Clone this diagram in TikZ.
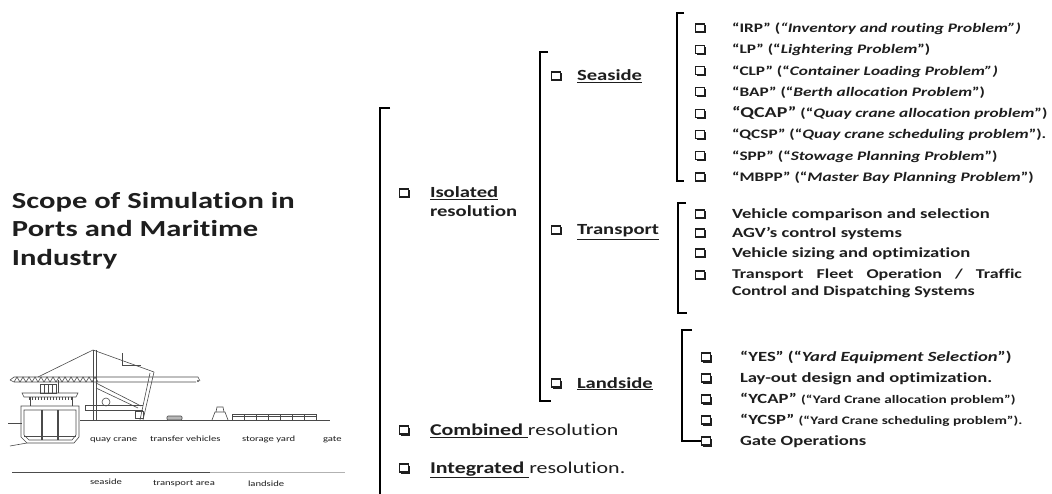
\documentclass[tikz,border=0pt]{standalone}
\usepackage{fontspec}
\setmainfont{Carlito}[Ligatures={NoCommon}]
\usetikzlibrary{shadows}
\definecolor{ink}{HTML}{1E1E1E}
\definecolor{sketch}{HTML}{4A4A4A}
\newcommand{\fs}[1]{\fontsize{#1}{#1}\selectfont}
\begin{document}
\begin{tikzpicture}[x=1pt,y=-1pt,
  txt/.style={anchor=base west, inner sep=0pt, outer sep=0pt, xscale=1.33, text=ink},
  cbox/.style={draw=ink, fill=white, line width=1.1pt, minimum width=9.5pt, minimum height=8pt,
    inner sep=0pt, general shadow={fill=ink, shadow xshift=1.5pt, shadow yshift=-1.5pt}},
  brk/.style={draw=black, line width=2.4pt},
  item/.style={txt, font=\fs{14}\bfseries},
  sitem/.style={txt, font=\fs{13}\bfseries},
  lvl/.style={txt, font=\fs{15.5}\bfseries},
  captxt/.style={txt, font=\fs{8}, text=ink},
  sk/.style={draw=sketch, line width=0.6pt},
]
\useasboundingbox (0,0) rectangle (1052,494);
\fill[white] (0,0) rectangle (1052,494);

% ---------- title ----------
\node[txt, font=\fs{23}\bfseries] (t1) at (12,208.5) {Scope of Simulation in};
\node[txt, font=\fs{23}\bfseries] (t2) at (12,237) {Ports and Maritime};
\node[txt, font=\fs{23}\bfseries] (t3) at (12,265.5) {Industry};

% ---------- port sketch ----------
% quay and ship
\draw[sk] (80,420) -- (330,420);
\draw[sk] (8,423) -- (22,423);
\draw[sk] (10,446) -- (27,443);
\draw[sk] (21,406) -- (79,406) -- (79,437) -- (74,443) -- (27,443) -- (21,437) -- cycle;
\draw[sk] (24,410) -- (76,410) -- (76,435) -- (72,440) -- (29,440) -- (24,435) -- cycle;
\draw[sk, line width=1.4pt] (42,410) -- (42,440) (58,410) -- (58,440);
\draw[sk] (24,436) -- (76,436);
\draw[sk] (30,397) -- (30,406) (72,397) -- (72,406);
\draw[sk] (22,393) -- (78,393) -- (76,397) -- (24,397) -- cycle;
\foreach \tx in {29,32,...,71} \draw[sk, line width=0.8pt] (\tx,397) -- (\tx,400);
\draw[sk] (40,393) rectangle (56,384);
\draw[sk] (44,384) -- (44,393) (48,384) -- (48,393) (52,384) -- (52,393);
\draw[sk] (58,393) -- (58,380);
% boom with lattice
\draw[sk] (10,380) -- (14,377) -- (95,377) (10,380) -- (14,382) -- (95,382);
\foreach \tx in {14,20,...,92} \draw[sk] (\tx,382) -- (\tx+3,377) -- (\tx+6,382);
\draw[sk] (95,377) -- (198,377) -- (200,381) (95,382) -- (196,382);
\draw[sk] (198,381) circle (0.8);
% A-frame and legs
\draw[sk] (38,377) -- (93,350) -- (154,372);
\draw[sk] (93,350) -- (93,420) (96,350) -- (96,420);
\draw[sk] (154,372) -- (143,420) (150,373) -- (140,420);
\draw[sk] (96,383) -- (141,406) (96,388) -- (138,408);
\draw[sk] (122,353) -- (122,365) -- (141,365);
\draw[sk] (85,405) -- (143,405) (85,410) -- (143,410) (85,405) -- (85,410);
\draw[sk] (106,402) circle (4);
\draw[sk] (135,411) rectangle (143,418);
% transfer vehicle
\draw[sk, fill=sketch!40, rounded corners=1pt] (167,416) rectangle (182,420);
% straddle carrier and yard blocks
\draw[sk] (212,420) -- (215,412) -- (225,412) -- (228,420);
\draw[sk] (216,412) -- (217,407) -- (223,407) -- (224,412);
\draw[sk] (232,414) rectangle (316,420);
\draw[sk] (232,416.5) -- (316,416.5);
\foreach \tx in {244,256,...,304} \draw[sk] (\tx,414) -- (\tx,420);
% captions
\node[captxt] (c1) at (90,441) {quay crane};
\node[captxt] (c2) at (150,441) {transfer vehicles};
\node[captxt] (c3) at (242,441) {storage yard};
\node[captxt] (c4) at (323,441) {gate};
\draw[draw=black!70, line width=0.8pt] (12,472) -- (210,472);
\draw[draw=black!30, line width=0.8pt] (210,472) -- (345,472);
\node[captxt] (c5) at (90,484) {seaside};
\node[captxt] (c6) at (153,485) {transport area};
\node[captxt] (c7) at (248,486) {landside};

% ---------- outer level ----------
\coordinate (o1) at (390,108);
\coordinate (o2) at (380,108);
\coordinate (o3) at (380,500);
\draw[brk, line width=2.8pt] (o1) -- (o2) -- (o3);

\node[cbox] (bIso) at (404,193) {};
\node[lvl] (iso1) at (430,198) {\underline{Isolated}};
\node[lvl] (iso2) at (430,217) {resolution};

\node[cbox] (bComb) at (404,430) {};
\node[txt, font=\fs{16.5}] (comb) at (430,435.5) {\textbf{\underline{Combined\ }}resolution};
\node[cbox] (bInt) at (404,468) {};
\node[txt, font=\fs{16.5}] (intg) at (430,473.5) {\textbf{\underline{Integrated\ }}resolution.};

% ---------- middle level ----------
\coordinate (m1) at (548,52);
\coordinate (m2) at (540,52);
\coordinate (m3) at (540,401);
\coordinate (m4) at (551,401);
\draw[brk] (m1) -- (m2) -- (m3) -- (m4);

\node[cbox] (bSea) at (556,76) {};
\node[lvl] (sea) at (577,81) {\underline{Seaside}};
\node[cbox] (bTra) at (556,230) {};
\node[lvl] (tra) at (577,235) {\underline{Transport}};
\node[cbox] (bLan) at (556,383) {};
\node[lvl] (lan) at (577,388) {\underline{Landside}};

% ---------- seaside problems ----------
\coordinate (s1) at (684,13);
\coordinate (s2) at (677,13);
\coordinate (s3) at (677,181);
\coordinate (s4) at (684,181);
\draw[brk] (s1) -- (s2) -- (s3) -- (s4);

\node[cbox] (bs1) at (700,28) {};
\node[sitem] (is1) at (732,32.5) {“IRP” (\textit{“Inventory and routing Problem”)}};
\node[cbox] (bs2) at (700,49.3) {};
\node[sitem] (is2) at (732,53.8) {“LP” (“\textit{Lightering Problem}”)};
\node[cbox] (bs3) at (700,70.6) {};
\node[sitem] (is3) at (732,75.1) {“CLP” (“\textit{Container Loading Problem”)}};
\node[cbox] (bs4) at (700,91.9) {};
\node[sitem] (is4) at (732,96.4) {“BAP” (“\textit{Berth allocation Problem}”)};
\node[cbox] (bs5) at (700,113.1) {};
\node[sitem] (is5) at (732,117.6) {{\fs{15}“QCAP”} (“\textit{Quay crane allocation problem}”)};
\node[cbox] (bs6) at (700,134.4) {};
\node[sitem] (is6) at (732,138.9) {“QCSP” (“\textit{Quay crane scheduling problem}”).};
\node[cbox] (bs7) at (700,155.7) {};
\node[sitem] (is7) at (732,160.2) {“SPP” (“\textit{Stowage Planning Problem}”)};
\node[cbox] (bs8) at (700,177) {};
\node[sitem] (is8) at (732,181.5) {“MBPP” (“\textit{Master Bay Planning Problem}”)};

% ---------- transport topics ----------
\coordinate (r1) at (686,203);
\coordinate (r2) at (678,203);
\coordinate (r3) at (678,313);
\coordinate (r4) at (687,313);
\draw[brk] (r1) -- (r2) -- (r3) -- (r4);

\node[cbox] (br1) at (700,214) {};
\node[item] (ir1) at (732,218.5) {Vehicle comparison and selection};
\node[cbox] (br2) at (700,233) {};
\node[item] (ir2) at (732,237.5) {AGV’s control systems};
\node[cbox] (br3) at (700,253) {};
\node[item] (ir3) at (732,257.5) {Vehicle sizing and optimization};
\node[cbox] (br4) at (700,275) {};
\node[item, font=\fs{13.5}\bfseries] (ir4) at (732,279) {\makebox[218pt][s]{Transport\hfill Fleet\hfill Operation\hfill /\hfill Traffic}};
\node[item, font=\fs{13.5}\bfseries] (ir5) at (732,296) {Control and Dispatching Systems};

% ---------- landside topics ----------
\node[cbox] (bl1) at (706,357) {};
\node[item] (il1) at (740,361.5) {“YES” (“\textit{Yard Equipment Selection}”)};
\node[cbox] (bl2) at (706,378) {};
\node[item] (il2) at (740,382.5) {Lay-out design and optimization.};
\node[cbox] (bl3) at (706,399) {};
\node[item] (il3) at (740,403.5) {“YCAP” {\fs{11.5}(“Yard Crane allocation problem”)}};
\node[cbox] (bl4) at (706,420) {};
\node[item] (il4) at (740,424.5) {“YCSP” {\fs{11.5}(“Yard Crane scheduling problem”).}};
\node[cbox] (bl5) at (706,441) {};
\node[item] (il5) at (740,445.5) {Gate Operations};

\coordinate (l1) at (692,330);
\coordinate (l2) at (682,330);
\coordinate (l3) at (682,441);
\draw[brk] (l1) -- (l2) -- (l3) -- (bl5.west);
\end{tikzpicture}
\end{document}
